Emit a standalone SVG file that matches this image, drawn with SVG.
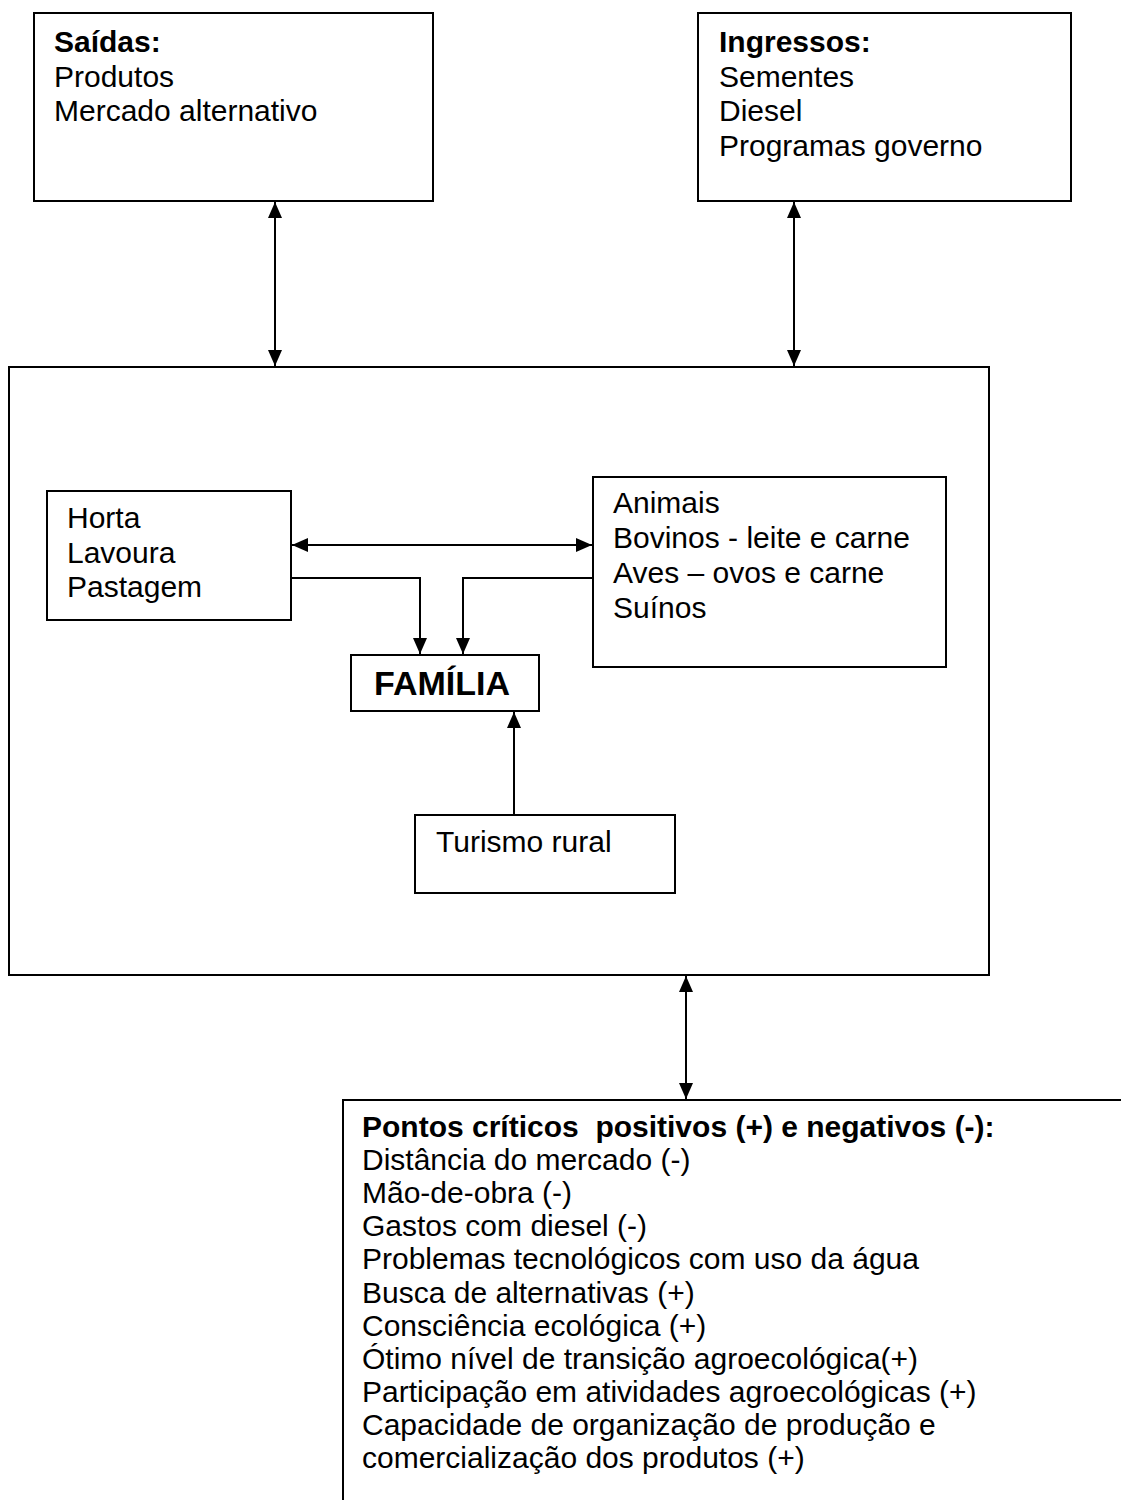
<svg xmlns="http://www.w3.org/2000/svg" width="1121" height="1500" viewBox="0 0 1121 1500">
<style>
.box{fill:#fff;stroke:#000;stroke-width:2}
.t{font-family:"Liberation Sans",Arial,sans-serif;font-size:30px;fill:#000}
.b{font-weight:bold}
.c{fill:none;stroke:#000;stroke-width:2}
</style>
<defs>
<marker id="ah" viewBox="0 0 16 14" refX="16" refY="7" markerWidth="16" markerHeight="14" markerUnits="userSpaceOnUse" orient="auto-start-reverse">
<path d="M0,0 L16,7 L0,14 Z" fill="#000"/>
</marker>
</defs>
<rect width="1121" height="1500" fill="#fff"/>
<g id="sistema"><rect class="box" x="9" y="367" width="980" height="608"/></g>
<g id="saidas">
<rect class="box" x="34" y="13" width="399" height="188"/>
<text class="t" x="54" y="52"><tspan class="b">Saídas:</tspan><tspan x="54" dy="34.5">Produtos</tspan><tspan x="54" dy="34.5">Mercado alternativo</tspan></text>
</g>
<g id="ingressos">
<rect class="box" x="698" y="13" width="373" height="188"/>
<text class="t" x="719" y="52"><tspan class="b">Ingressos:</tspan><tspan x="719" dy="34.5">Sementes</tspan><tspan x="719" dy="34.5">Diesel</tspan><tspan x="719" dy="34.5">Programas governo</tspan></text>
</g>
<g id="horta">
<rect class="box" x="47" y="491" width="244" height="129"/>
<text class="t" x="67" y="528">Horta<tspan x="67" dy="34.5">Lavoura</tspan><tspan x="67" dy="34.5">Pastagem</tspan></text>
</g>
<g id="animais">
<rect class="box" x="593" y="477" width="353" height="190"/>
<text class="t" x="613" y="513">Animais<tspan x="613" dy="35">Bovinos - leite e carne</tspan><tspan x="613" dy="35">Aves – ovos e carne</tspan><tspan x="613" dy="35">Suínos</tspan></text>
</g>
<g id="familia">
<rect class="box" x="351" y="655" width="188" height="56"/>
<text class="t b" x="442" y="695" text-anchor="middle" style="font-size:34px">FAMÍLIA</text>
</g>
<g id="turismo">
<rect class="box" x="415" y="815" width="260" height="78"/>
<text class="t" x="436" y="852">Turismo rural</text>
</g>
<g id="pontos">
<path class="c" d="M343,1500 V1100 H1121"/>
<text class="t" x="362" y="1137"><tspan class="b">Pontos críticos&#160; positivos (+) e negativos (-):</tspan><tspan x="362" dy="33.1">Distância do mercado (-)</tspan><tspan x="362" dy="33.1">Mão-de-obra (-)</tspan><tspan x="362" dy="33.1">Gastos com diesel (-)</tspan><tspan x="362" dy="33.1">Problemas tecnológicos com uso da água</tspan><tspan x="362" dy="33.1">Busca de alternativas (+)</tspan><tspan x="362" dy="33.1">Consciência ecológica (+)</tspan><tspan x="362" dy="33.1">Ótimo nível de transição agroecológica(+)</tspan><tspan x="362" dy="33.1">Participação em atividades agroecológicas (+)</tspan><tspan x="362" dy="33.1">Capacidade de organização de produção e</tspan><tspan x="362" dy="33.1">comercialização dos produtos (+)</tspan></text>
</g>
<g id="connectors">
<line class="c" x1="275" y1="202" x2="275" y2="366" marker-start="url(#ah)" marker-end="url(#ah)"/>
<line class="c" x1="794" y1="202" x2="794" y2="366" marker-start="url(#ah)" marker-end="url(#ah)"/>
<line class="c" x1="292" y1="545" x2="592" y2="545" marker-start="url(#ah)" marker-end="url(#ah)"/>
<path class="c" d="M291,578 H420 V654" marker-end="url(#ah)"/>
<path class="c" d="M593,578 H463 V654" marker-end="url(#ah)"/>
<line class="c" x1="514" y1="815" x2="514" y2="712" marker-end="url(#ah)"/>
<line class="c" x1="686" y1="976" x2="686" y2="1099" marker-start="url(#ah)" marker-end="url(#ah)"/>
</g>
</svg>
